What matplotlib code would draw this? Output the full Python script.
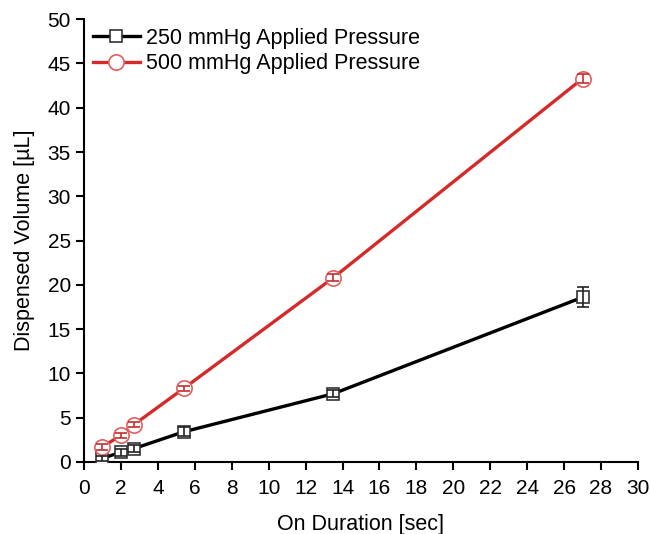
import matplotlib
matplotlib.use("Agg")
import matplotlib.pyplot as plt
from matplotlib.lines import Line2D
import numpy as np

plt.rcParams["font.family"] = ["Liberation Sans", "DejaVu Sans"]

# on duration [sec]
duration = [1.0, 2.0, 2.7, 5.4, 13.5, 27.0]

vol_250 = [0.4, 1.1, 1.5, 3.4, 7.7, 18.6]
err_250 = [0.3, 0.4, 0.4, 0.5, 0.4, 1.1]

vol_500 = [1.7, 3.0, 4.2, 8.3, 20.8, 43.3]
err_500 = [0.3, 0.3, 0.3, 0.3, 0.4, 0.5]

labels = ["250 mmHg Applied Pressure", "500 mmHg Applied Pressure"]


def main() -> None:
    fig = plt.figure(figsize=(6.51, 5.34), dpi=100)
    ax = fig.add_axes([0.129, 0.135, 0.851, 0.829])

    black = dict(color="black", lw=2.4, marker="s", ms=8.5, mfc="white",
                 mec="#333333", mew=1.2)
    red = dict(color="#d42a2a", lw=2.4, marker="o", ms=11, mfc="white",
               mec="#e06060", mew=1.2)

    ax.plot(duration, vol_250, zorder=3, **black)
    ax.plot(duration, vol_500, zorder=3, **red)
    # error bars drawn over the open markers
    ax.errorbar(duration, vol_250, yerr=err_250, fmt="none", ecolor="#222222",
                elinewidth=1.2, capsize=4, capthick=1.2, zorder=4)
    ax.errorbar(duration, vol_500, yerr=err_500, fmt="none", ecolor="#c03030",
                elinewidth=1.2, capsize=4, capthick=1.2, zorder=4)

    ax.set_xlim(0, 30)
    ax.set_ylim(0, 50)
    ax.set_xticks(np.arange(0, 31, 2))
    ax.set_yticks(np.arange(0, 51, 5))
    ax.spines["top"].set_visible(False)
    ax.spines["right"].set_visible(False)
    for s in ("left", "bottom"):
        ax.spines[s].set_linewidth(1.5)
    ax.tick_params(direction="out", length=6, width=1.5, labelsize=15)
    ax.tick_params(axis="x", pad=6)

    ax.set_xlabel("On Duration [sec]", fontsize=15.5, labelpad=12)
    ax.set_ylabel("Dispensed Volume [\u00b5L]", fontsize=15.5, labelpad=9)

    handles = [Line2D([], [], **black), Line2D([], [], **red)]
    ax.legend(handles, labels, loc="upper left", frameon=False, fontsize=15.5,
              handlelength=2.2, handletextpad=0.3, borderaxespad=0.2,
              labelspacing=0.2, borderpad=0.2)

    fig.savefig("out.png", dpi=100)
    plt.close(fig)


if __name__ == "__main__":
    main()
